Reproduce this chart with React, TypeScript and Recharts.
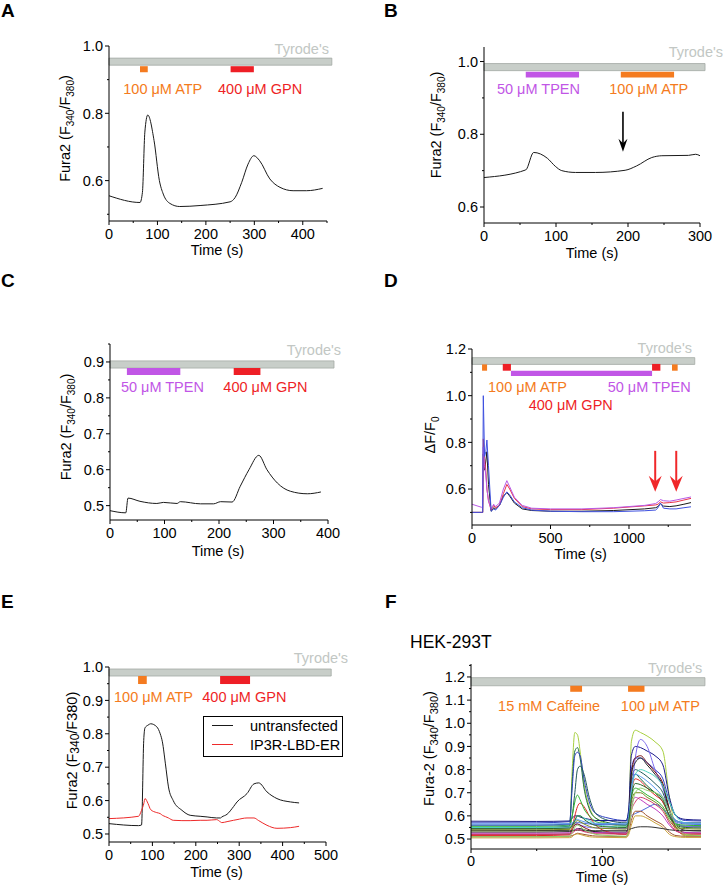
import React from 'react';
import { LineChart, Line, XAxis, YAxis, ReferenceArea, ReferenceDot, Legend } from 'recharts';

const FONT = '"Liberation Sans", Arial, Helvetica, sans-serif';
const FS = 14.5;
const ORANGE = '#f47b20';
const RED = '#ee1f26';
const PURPLE = '#c156e6';
const BAR_GREY = '#c8cec9';
const BAR_EDGE = '#a3a9a5';
const TEXT_GREY = '#c2c7c4';
const TRACE = '#1a1a1a';

// ---- A: ATP then GPN ----
const aTime = [0, 64, 69, 74, 80, 93, 104, 112, 126, 146, 188, 250, 260, 274, 287, 299, 311, 332, 353, 380, 408, 441];
const aRatio = [0.555, 0.535, 0.565, 0.744, 0.795, 0.719, 0.6, 0.56, 0.532, 0.523, 0.526, 0.537, 0.549, 0.595, 0.649, 0.674, 0.659, 0.605, 0.58, 0.57, 0.57, 0.577];
const aXTicks = [0, 50, 100, 150, 200, 250, 300, 350, 400, 450];
const aXMajor = [0, 100, 200, 300, 400];
const aYTicks = [0.5, 0.6, 0.7, 0.8, 0.9, 1.0];
const aYMajor = [0.6, 0.8, 1.0];

// ---- B: TPEN then ATP ----
const bTime = [0, 58, 69, 88, 99, 108, 127, 155, 196, 212, 233, 247, 284, 294, 300];
const bRatio = [0.681, 0.702, 0.75, 0.734, 0.712, 0.7, 0.695, 0.695, 0.701, 0.713, 0.736, 0.741, 0.742, 0.745, 0.741];
const bXTicks = [0, 50, 100, 150, 200, 250, 300];
const bXMajor = [0, 100, 200, 300];
const bYTicks = [0.6, 0.7, 0.8, 0.9, 1.0];
const bYMajor = [0.6, 0.8, 1.0];

// ---- C: TPEN then GPN ----
const cTime = [0, 29, 33, 55, 86, 98, 123, 129, 166, 190, 203, 224, 239, 255, 273, 288, 307, 331, 362, 387];
const cRatio = [0.486, 0.48, 0.521, 0.512, 0.506, 0.509, 0.506, 0.511, 0.505, 0.505, 0.511, 0.51, 0.554, 0.6, 0.64, 0.6, 0.563, 0.54, 0.533, 0.538];
const cXTicks = [0, 50, 100, 150, 200, 250, 300, 350, 400];
const cXMajor = [0, 100, 200, 300, 400];
const cYTicks = [0.5, 0.55, 0.6, 0.65, 0.7, 0.75, 0.8, 0.85, 0.9, 0.95];
const cYMajor = [0.5, 0.6, 0.7, 0.8, 0.9];

// ---- D: four cells, dF/F0 ----
const dTime = [0, 60, 68, 72, 80, 88, 95, 105, 122, 130, 138, 150, 175, 200, 222, 240, 270, 320, 380, 500, 700, 900, 1100, 1170, 1185, 1200, 1220, 1260, 1300, 1350, 1395];
const dBlue = [0.5, 0.5, 0.5, 1.0, 0.74, 0.76, 0.81, 0.7, 0.505, 0.51, 0.515, 0.51, 0.53, 0.565, 0.588, 0.575, 0.545, 0.52, 0.51, 0.505, 0.503, 0.503, 0.507, 0.51, 0.52, 0.54, 0.518, 0.515, 0.515, 0.52, 0.524];
const dRed = [0.5, 0.5, 0.5, 0.815, 0.73, 0.68, 0.6, 0.55, 0.51, 0.52, 0.53, 0.52, 0.53, 0.58, 0.62, 0.6, 0.56, 0.525, 0.515, 0.512, 0.512, 0.518, 0.528, 0.532, 0.535, 0.545, 0.54, 0.542, 0.545, 0.553, 0.56];
const dBlack = [0.5, 0.5, 0.5, 0.75, 0.681, 0.72, 0.76, 0.62, 0.505, 0.51, 0.52, 0.515, 0.53, 0.57, 0.585, 0.57, 0.54, 0.515, 0.508, 0.505, 0.505, 0.508, 0.515, 0.52, 0.525, 0.538, 0.527, 0.525, 0.528, 0.535, 0.542];
const dPurple = [0.535, 0.522, 0.52, 0.78, 0.7, 0.66, 0.6, 0.55, 0.515, 0.525, 0.535, 0.525, 0.54, 0.6, 0.636, 0.61, 0.565, 0.53, 0.518, 0.515, 0.515, 0.52, 0.53, 0.538, 0.545, 0.555, 0.55, 0.548, 0.553, 0.56, 0.566];
const dXTicks = [0, 250, 500, 750, 1000, 1250];
const dXMajor = [0, 500, 1000];
const dYTicks = [0.5, 0.6, 0.7, 0.8, 0.9, 1.0, 1.1, 1.2];
const dYMajor = [0.6, 0.8, 1.0, 1.2];

// ---- E: untransfected vs IP3R-LBD-ER ----
const eSeries = ['untransfected', 'IP3R-LBD-ER'];
const eColors = [TRACE, '#ee2a2a'];
const eTime = [0, 68, 75, 80, 83, 90, 96, 110, 118, 123, 130, 137, 148, 168, 187, 210, 226, 248, 257, 260, 272, 287, 295, 318, 334, 345, 364, 387, 418, 438];
const eUntransfected = [0.531, 0.525, 0.527, 0.78, 0.818, 0.826, 0.83, 0.821, 0.8, 0.776, 0.71, 0.641, 0.6, 0.571, 0.556, 0.553, 0.551, 0.548, 0.548, 0.551, 0.559, 0.582, 0.596, 0.621, 0.65, 0.653, 0.626, 0.606, 0.596, 0.593];
const eIp3r = [0.546, 0.553, 0.571, 0.59, 0.606, 0.591, 0.573, 0.564, 0.561, 0.556, 0.552, 0.548, 0.541, 0.54, 0.54, 0.541, 0.541, 0.543, 0.536, 0.534, 0.537, 0.541, 0.543, 0.548, 0.548, 0.54, 0.526, 0.517, 0.519, 0.523];
const eXTicks = [0, 50, 100, 150, 200, 250, 300, 350, 400, 450, 500];
const eXMajor = [0, 100, 200, 300, 400, 500];
const eYTicks = [0.5, 0.55, 0.6, 0.65, 0.7, 0.75, 0.8, 0.85, 0.9, 0.95, 1.0];
const eYMajor = [0.5, 0.6, 0.7, 0.8, 0.9, 1.0];

// ---- F: HEK-293T, caffeine then ATP ----
const fTime = [0, 50, 75, 77, 79, 81, 83, 86, 90, 95, 105, 118, 120, 122, 125, 129, 134, 140, 146, 151, 156, 163, 175];
const fTraces = [
  [0.535, 0.535, 0.54, 0.8, 0.96, 0.95, 0.88, 0.74, 0.64, 0.59, 0.565, 0.555, 0.6, 0.92, 0.97, 0.96, 0.945, 0.92, 0.88, 0.68, 0.55, 0.515, 0.515],
  [0.55, 0.55, 0.555, 0.75, 0.88, 0.895, 0.85, 0.72, 0.63, 0.59, 0.57, 0.56, 0.6, 0.74, 0.78, 0.76, 0.73, 0.7, 0.66, 0.6, 0.565, 0.555, 0.555],
  [0.57, 0.57, 0.575, 0.72, 0.86, 0.875, 0.86, 0.76, 0.66, 0.61, 0.59, 0.58, 0.62, 0.8, 0.85, 0.85, 0.83, 0.8, 0.76, 0.66, 0.6, 0.58, 0.578],
  [0.56, 0.56, 0.565, 0.6, 0.7, 0.8, 0.815, 0.78, 0.68, 0.61, 0.58, 0.57, 0.6, 0.76, 0.8, 0.79, 0.77, 0.74, 0.7, 0.62, 0.58, 0.57, 0.57],
  [0.577, 0.576, 0.578, 0.59, 0.6, 0.6, 0.595, 0.59, 0.585, 0.58, 0.58, 0.578, 0.63, 0.86, 0.9, 0.895, 0.88, 0.86, 0.82, 0.68, 0.6, 0.585, 0.582],
  [0.545, 0.545, 0.55, 0.555, 0.565, 0.565, 0.56, 0.555, 0.55, 0.548, 0.546, 0.545, 0.57, 0.68, 0.85, 0.93, 0.9, 0.8, 0.72, 0.62, 0.57, 0.555, 0.552],
  [0.52, 0.52, 0.522, 0.54, 0.56, 0.565, 0.56, 0.55, 0.54, 0.53, 0.525, 0.522, 0.56, 0.78, 0.85, 0.86, 0.83, 0.79, 0.74, 0.63, 0.55, 0.528, 0.525],
  [0.53, 0.53, 0.532, 0.535, 0.54, 0.545, 0.545, 0.54, 0.535, 0.532, 0.53, 0.53, 0.57, 0.78, 0.83, 0.85, 0.82, 0.78, 0.73, 0.62, 0.56, 0.538, 0.535],
  [0.515, 0.515, 0.518, 0.55, 0.6, 0.64, 0.655, 0.64, 0.6, 0.56, 0.53, 0.52, 0.55, 0.7, 0.76, 0.75, 0.72, 0.69, 0.66, 0.6, 0.54, 0.52, 0.518],
  [0.555, 0.555, 0.56, 0.6, 0.66, 0.69, 0.67, 0.63, 0.6, 0.575, 0.565, 0.56, 0.59, 0.68, 0.72, 0.71, 0.69, 0.67, 0.64, 0.59, 0.565, 0.56, 0.558],
  [0.55, 0.55, 0.552, 0.56, 0.58, 0.6, 0.6, 0.59, 0.58, 0.565, 0.555, 0.552, 0.57, 0.7, 0.78, 0.8, 0.79, 0.77, 0.73, 0.66, 0.6, 0.57, 0.565],
  [0.525, 0.525, 0.527, 0.53, 0.54, 0.545, 0.54, 0.535, 0.53, 0.528, 0.527, 0.526, 0.55, 0.64, 0.68, 0.67, 0.65, 0.63, 0.6, 0.56, 0.535, 0.528, 0.527],
  [0.56, 0.56, 0.562, 0.565, 0.57, 0.572, 0.57, 0.568, 0.565, 0.563, 0.562, 0.561, 0.58, 0.6, 0.61, 0.62, 0.635, 0.65, 0.63, 0.6, 0.575, 0.565, 0.563],
  [0.51, 0.51, 0.512, 0.515, 0.52, 0.525, 0.523, 0.52, 0.516, 0.513, 0.512, 0.511, 0.53, 0.58, 0.62, 0.62, 0.6, 0.58, 0.56, 0.53, 0.515, 0.512, 0.512],
  [0.505, 0.505, 0.506, 0.51, 0.52, 0.522, 0.52, 0.515, 0.51, 0.508, 0.507, 0.506, 0.52, 0.56, 0.6, 0.6, 0.59, 0.57, 0.55, 0.52, 0.51, 0.507, 0.507],
  [0.538, 0.537, 0.536, 0.536, 0.537, 0.538, 0.538, 0.537, 0.536, 0.536, 0.536, 0.536, 0.54, 0.545, 0.55, 0.553, 0.553, 0.55, 0.545, 0.54, 0.537, 0.536, 0.536],
  [0.54, 0.54, 0.542, 0.55, 0.57, 0.58, 0.575, 0.565, 0.555, 0.548, 0.545, 0.543, 0.57, 0.66, 0.7, 0.7, 0.68, 0.66, 0.63, 0.58, 0.55, 0.545, 0.543],
  [0.565, 0.565, 0.567, 0.57, 0.58, 0.585, 0.58, 0.575, 0.57, 0.568, 0.567, 0.566, 0.6, 0.72, 0.78, 0.77, 0.75, 0.72, 0.68, 0.62, 0.58, 0.57, 0.568],
  [0.52, 0.52, 0.521, 0.525, 0.535, 0.54, 0.538, 0.532, 0.527, 0.523, 0.522, 0.521, 0.54, 0.62, 0.66, 0.68, 0.67, 0.65, 0.62, 0.57, 0.535, 0.523, 0.522],
  [0.545, 0.545, 0.547, 0.56, 0.58, 0.6, 0.6, 0.585, 0.57, 0.558, 0.552, 0.55, 0.575, 0.68, 0.74, 0.735, 0.72, 0.7, 0.67, 0.6, 0.56, 0.55, 0.548],
  [0.51, 0.51, 0.512, 0.53, 0.55, 0.56, 0.555, 0.54, 0.53, 0.52, 0.515, 0.512, 0.54, 0.62, 0.7, 0.72, 0.71, 0.7, 0.68, 0.62, 0.56, 0.52, 0.515],
];
const fColors = ['#a8d040', '#1f6f3f', '#2d3fc0', '#215a5a', '#1a1a8a', '#7b68ee', '#7a1010', '#222222', '#e02424', '#2fb52f', '#4fd6c0', '#c03cc0', '#4a6ad8', '#a0522d', '#c9a23a', '#333333', '#7a8a20', '#5a9af0', '#d0406a', '#2a6a2a', '#8fd06a'];
const fXTicks = [0, 50, 100, 150];
const fXMajor = [0, 100];
const fYTicks = [0.5, 0.55, 0.6, 0.65, 0.7, 0.75, 0.8, 0.85, 0.9, 0.95, 1.0, 1.05, 1.1, 1.15, 1.2, 1.25];
const fYMajor = [0.5, 0.6, 0.7, 0.8, 0.9, 1.0, 1.1, 1.2];

const rows = (time: number[], cols: Record<string, number[]>) =>
  time.map((t, i) => {
    const r: Record<string, number> = { t };
    Object.keys(cols).forEach((k) => (r[k] = cols[k][i]));
    return r;
  });

const near = (list: number[], v: number) => list.some((m) => Math.abs(m - v) < 1e-6);

const YTick = (props: any) => {
  const { y, payload, axisX, majors } = props;
  const v = Number(payload.value);
  const major = near(majors, v);
  return (
    <g>
      <line x1={axisX - (major ? 4 : 2)} x2={axisX} y1={y} y2={y} stroke="#000" strokeWidth={1} />
      {major && (
        <text x={axisX - 6} y={y} dy="0.36em" textAnchor="end" fontSize={FS} fontFamily={FONT} fill="#000">
          {v.toFixed(1)}
        </text>
      )}
    </g>
  );
};

const XTick = (props: any) => {
  const { x, payload, axisY, majors, gap } = props;
  const v = Number(payload.value);
  const major = near(majors, v);
  return (
    <g>
      <line x1={x} x2={x} y1={axisY} y2={axisY + (major ? 4 : 2)} stroke="#000" strokeWidth={1} />
      {major && (
        <text x={x} y={axisY + gap} textAnchor="middle" fontSize={FS} fontFamily={FONT} fill="#000">
          {v}
        </text>
      )}
    </g>
  );
};

type Frame = { W: number; H: number; L: number; T: number; R: number; B: number; G?: number };

// both axes for one panel, with titles placed relative to the axis boxes
const axes = (
  f: Frame,
  xDomain: number[], xTicks: number[], xMajor: number[],
  yDomain: number[], yTicks: number[], yMajor: number[],
  xT: { dx: number; dy: number },
  yT: { node: React.ReactNode; dx: number; dy: number },
) => [
  <XAxis
    key="x"
    type="number"
    dataKey="t"
    domain={xDomain}
    ticks={xTicks}
    interval={0}
    allowDataOverflow
    height={f.B}
    axisLine={{ stroke: '#000', strokeWidth: 1 }}
    tickLine={false}
    tick={<XTick axisY={f.H - f.B} majors={xMajor} gap={f.G ?? 18} />}
    label={{
      content: (p: any) => (
        <text x={p.viewBox.x + p.viewBox.width / 2 + xT.dx} y={p.viewBox.y + xT.dy} textAnchor="middle" fontSize={FS} fontFamily={FONT} fill="#000">
          Time (s)
        </text>
      ),
    }}
  />,
  <YAxis
    key="y"
    type="number"
    domain={yDomain}
    ticks={yTicks}
    interval={0}
    allowDataOverflow
    width={f.L}
    axisLine={{ stroke: '#000', strokeWidth: 1 }}
    tickLine={false}
    tick={<YTick axisX={f.L} majors={yMajor} />}
    label={{
      content: (p: any) => {
        const x = p.viewBox.x + p.viewBox.width - yT.dx;
        const y = p.viewBox.y + p.viewBox.height / 2 + yT.dy;
        return (
          <text x={x} y={y} transform={`rotate(-90 ${x} ${y})`} textAnchor="middle" fontSize={FS} fontFamily={FONT} fill="#000">
            {yT.node}
          </text>
        );
      },
    }}
  />,
];

const bar = (key: string, x1: number, x2: number, y1: number, y2: number, fill: string, stroke?: string) => (
  <ReferenceArea key={key} x1={x1} x2={x2} y1={y1} y2={y2} fill={fill} fillOpacity={1} stroke={stroke || 'none'} strokeWidth={0.8} ifOverflow="visible" />
);

const note = (key: string, x: number, y: number, text: string, color: string, anchor = 'start') => (
  <ReferenceDot
    key={key}
    x={x}
    y={y}
    ifOverflow="visible"
    shape={(p: any) => (
      <text x={p.cx} y={p.cy} fill={color} fontSize={FS} fontFamily={FONT} textAnchor={anchor}>
        {text}
      </text>
    )}
  />
);

const arrow = (key: string, x: number, y: number, color: string, len: number, w: number, hl: number, sw: number) => (
  <ReferenceDot
    key={key}
    x={x}
    y={y}
    ifOverflow="visible"
    shape={(p: any) => (
      <g>
        <line x1={p.cx} x2={p.cx} y1={p.cy - len} y2={p.cy - hl * 0.6} stroke={color} strokeWidth={sw} />
        <polygon
          points={`${p.cx - w / 2},${p.cy - hl} ${p.cx},${p.cy - hl * 0.65} ${p.cx + w / 2},${p.cy - hl} ${p.cx},${p.cy}`}
          fill={color}
        />
      </g>
    )}
  />
);

const fura = (
  <>
    Fura2 (F<tspan dy={4} fontSize={10}>340</tspan>
    <tspan dy={-4}>/F</tspan>
    <tspan dy={4} fontSize={10}>380</tspan>
    <tspan dy={-4}>)</tspan>
  </>
);

const place = (left: number, top: number): React.CSSProperties => ({ position: 'absolute', left, top });

const PanelA = () => {
  const f = { W: 357, H: 266, L: 109, T: 46, R: 30, B: 45 };
  return (
    <LineChart width={f.W} height={f.H} data={rows(aTime, { v: aRatio })} margin={{ top: f.T, right: f.R, left: 0, bottom: 0 }}>
      {axes(f, [0, 450], aXTicks, aXMajor, [0.48, 1.0], aYTicks, aYMajor, { dx: -1, dy: 34 }, { node: fura, dx: 39, dy: -5 })}
      {bar('ty', 0, 460, 0.943, 0.964, BAR_GREY, BAR_EDGE)}
      {bar('atp', 64, 80, 0.922, 0.94, ORANGE)}
      {bar('gpn', 251, 299, 0.922, 0.94, RED)}
      {note('tyt', 454, 0.975, "Tyrode's", TEXT_GREY, 'end')}
      {note('atpt', 29.5, 0.857, '100 μM ATP', ORANGE)}
      {note('gpnt', 225, 0.857, '400 μM GPN', RED)}
      <Line type="monotone" dataKey="v" stroke={TRACE} strokeWidth={1} dot={false} isAnimationActive={false} />
    </LineChart>
  );
};

const PanelB = () => {
  const f = { W: 362, H: 268, L: 122, T: 47, R: 24, B: 45 };
  return (
    <LineChart width={f.W} height={f.H} data={rows(bTime, { v: bRatio })} margin={{ top: f.T, right: f.R, left: 0, bottom: 0 }}>
      {axes(f, [0, 300], bXTicks, bXMajor, [0.556, 1.04], bYTicks, bYMajor, { dx: 0, dy: 35 }, { node: fura, dx: 43, dy: -10 })}
      {bar('ty', 0, 307, 0.975, 0.9945, BAR_GREY, BAR_EDGE)}
      {bar('tpen', 58, 132, 0.956, 0.972, PURPLE)}
      {bar('atp', 190, 264, 0.956, 0.972, ORANGE)}
      {note('tyt', 332, 1.013, "Tyrode's", TEXT_GREY, 'end')}
      {note('tpent', 18, 0.912, '50 μM TPEN', PURPLE)}
      {note('atpt', 174, 0.912, '100 μM ATP', ORANGE)}
      {arrow('arr', 193, 0.752, '#000', 40, 9, 13, 1.6)}
      <Line type="monotone" dataKey="v" stroke={TRACE} strokeWidth={1} dot={false} isAnimationActive={false} />
    </LineChart>
  );
};

const PanelC = () => {
  const f = { W: 358, H: 275, L: 110, T: 54, R: 30, B: 45 };
  return (
    <LineChart width={f.W} height={f.H} data={rows(cTime, { v: cRatio })} margin={{ top: f.T, right: f.R, left: 0, bottom: 0 }}>
      {axes(f, [0, 400], cXTicks, cXMajor, [0.46, 0.95], cYTicks, cYMajor, { dx: -1, dy: 36 }, { node: fura, dx: 39, dy: -5 })}
      {bar('ty', 0, 411, 0.883, 0.903, BAR_GREY, BAR_EDGE)}
      {bar('tpen', 31, 129, 0.864, 0.883, PURPLE)}
      {bar('gpn', 227, 276, 0.864, 0.883, RED)}
      {note('tyt', 424, 0.919, "Tyrode's", TEXT_GREY, 'end')}
      {note('tpent', 20, 0.8175, '50 μM TPEN', PURPLE)}
      {note('gpnt', 208, 0.8175, '400 μM GPN', RED)}
      <Line type="monotone" dataKey="v" stroke={TRACE} strokeWidth={1} dot={false} isAnimationActive={false} />
    </LineChart>
  );
};

const PanelD = () => {
  const f = { W: 362, H: 280, L: 110, T: 59, R: 33, B: 45 };
  const data = rows(dTime, { black: dBlack, red: dRed, blue: dBlue, purple: dPurple });
  const dTitle = (
    <>
      ΔF/F<tspan dy={4} fontSize={10}>0</tspan>
    </>
  );
  return (
    <LineChart width={f.W} height={f.H} data={data} margin={{ top: f.T, right: f.R, left: 0, bottom: 0 }}>
      {axes(f, [0, 1395], dXTicks, dXMajor, [0.446, 1.2], dYTicks, dYMajor, { dx: -1, dy: 34 }, { node: dTitle, dx: 37, dy: -2 })}
      {bar('ty', 0, 1419, 1.134, 1.163, BAR_GREY, BAR_EDGE)}
      {bar('atp1', 64, 96, 1.107, 1.134, ORANGE)}
      {bar('gpn1', 196, 248, 1.107, 1.136, RED)}
      {bar('tpen', 248, 1147, 1.084, 1.107, PURPLE)}
      {bar('gpn2', 1147, 1200, 1.107, 1.136, RED)}
      {bar('atp2', 1274, 1310, 1.107, 1.134, ORANGE)}
      {note('tyt', 1401, 1.183, "Tyrode's", TEXT_GREY, 'end')}
      {note('atpt', 102, 1.017, '100 μM ATP', ORANGE)}
      {note('tpent', 864, 1.017, '50 μM TPEN', PURPLE)}
      {note('gpnt', 361, 0.939, '400 μM GPN', RED)}
      {arrow('arr1', 1167, 0.588, '#f0282a', 41, 13, 16, 2)}
      {arrow('arr2', 1301, 0.588, '#f0282a', 41, 13, 16, 2)}
      <Line type="linear" dataKey="black" stroke={TRACE} strokeWidth={1} dot={false} isAnimationActive={false} />
      <Line type="linear" dataKey="red" stroke="#e8324a" strokeWidth={1} dot={false} isAnimationActive={false} />
      <Line type="linear" dataKey="purple" stroke="#b85ae6" strokeWidth={1} dot={false} isAnimationActive={false} />
      <Line type="linear" dataKey="blue" stroke="#3f51e0" strokeWidth={1} dot={false} isAnimationActive={false} />
    </LineChart>
  );
};

// legend box drawn in series order, same as the figure
const ELegend = () => (
  <div style={{ width: 140, height: 41, border: '1px solid #000', boxSizing: 'border-box', background: '#fff', position: 'relative', fontFamily: FONT, fontSize: FS, color: '#000' }}>
    {eSeries.map((name, i) => (
      <div key={name} style={{ position: 'absolute', left: 8, top: i * 19, height: 17, display: 'flex', alignItems: 'center', whiteSpace: 'nowrap' }}>
        <span style={{ display: 'inline-block', width: 21, height: 0, borderTop: `1px solid ${eColors[i]}`, marginRight: 17 }} />
        <span>{name}</span>
      </div>
    ))}
  </div>
);

const PanelE = () => {
  const f = { W: 356, H: 295, L: 109, T: 77, R: 30, B: 43 };
  const data = rows(eTime, { u: eUntransfected, r: eIp3r });
  const eTitle = (
    <>
      Fura2 (F<tspan dy={2} fontSize={12}>340</tspan>
      <tspan dy={-2}>/F380)</tspan>
    </>
  );
  return (
    <LineChart width={f.W} height={f.H} data={data} margin={{ top: f.T, right: f.R, left: 0, bottom: 0 }}>
      {axes(f, [0, 500], eXTicks, eXMajor, [0.476, 1.0], eYTicks, eYMajor, { dx: -1, dy: 35 }, { node: eTitle, dx: 32, dy: -4 })}
      {bar('ty', 0, 512, 0.973, 0.994, BAR_GREY, BAR_EDGE)}
      {bar('atp', 67, 87, 0.949, 0.973, ORANGE)}
      {bar('gpn', 256, 325, 0.949, 0.973, RED)}
      {note('tyt', 551, 1.012, "Tyrode's", TEXT_GREY, 'end')}
      {note('atpt', 11.6, 0.895, '100 μM ATP', ORANGE)}
      {note('gpnt', 215, 0.895, '400 μM GPN', RED)}
      <Legend layout="vertical" align="center" verticalAlign="middle" wrapperStyle={{ left: 203, top: 126, width: 140, height: 41 }} content={<ELegend />} />
      <Line type="monotone" dataKey="u" name={eSeries[0]} stroke={eColors[0]} strokeWidth={1} dot={false} isAnimationActive={false} />
      <Line type="monotone" dataKey="r" name={eSeries[1]} stroke={eColors[1]} strokeWidth={1} dot={false} isAnimationActive={false} />
    </LineChart>
  );
};

const PanelF = () => {
  const f = { W: 362, H: 295, L: 109, T: 74, R: 23, B: 36, G: 17 };
  const cols: Record<string, number[]> = {};
  fTraces.forEach((tr, i) => (cols[`s${i}`] = tr));
  const fTitle = (
    <>
      Fura-2 (F<tspan dy={4} fontSize={11}>340</tspan>
      <tspan dy={-4}>/F</tspan>
      <tspan dy={4} fontSize={11}>380</tspan>
      <tspan dy={-4}>)</tspan>
    </>
  );
  return (
    <LineChart width={f.W} height={f.H} data={rows(fTime, cols)} margin={{ top: f.T, right: f.R, left: 0, bottom: 0 }}>
      {axes(f, [0, 175], fXTicks, fXMajor, [0.457, 1.256], fYTicks, fYMajor, { dx: 16, dy: 33 }, { node: fTitle, dx: 37, dy: -8 })}
      {bar('ty', 0, 178, 1.162, 1.197, BAR_GREY, BAR_EDGE)}
      {bar('caf', 75.5, 84.5, 1.136, 1.162, ORANGE)}
      {bar('atp', 119.5, 132, 1.136, 1.162, ORANGE)}
      {note('tyt', 176, 1.219, "Tyrode's", TEXT_GREY, 'end')}
      {note('caft', 20.6, 1.054, '15 mM Caffeine', ORANGE)}
      {note('atpt', 114, 1.054, '100 μM ATP', ORANGE)}
      {fTraces.map((_, i) => (
        <Line key={i} type="monotone" dataKey={`s${i}`} stroke={fColors[i]} strokeWidth={1} dot={false} isAnimationActive={false} />
      ))}
    </LineChart>
  );
};

const letter = (ch: string, x: number, y: number) => (
  <text key={ch} x={x} y={y} fontSize={19} fontWeight="bold" fontFamily={FONT} fill="#000">
    {ch}
  </text>
);

export default function App() {
  return (
    <div style={{ position: 'relative', width: 724, height: 885, background: '#fff', overflow: 'hidden' }}>
      <style>{'body{margin:0}'}</style>
      <svg width={724} height={885} style={{ position: 'absolute', left: 0, top: 0 }}>
        {letter('A', 1, 17)}
        {letter('B', 384, 17)}
        {letter('C', 1, 287)}
        {letter('D', 384, 287)}
        {letter('E', 1, 608)}
        {letter('F', 385, 608)}
        <text x={410} y={648} fontSize={17.5} fontFamily={FONT} fill="#000">
          HEK-293T
        </text>
      </svg>
      <div style={place(0, 0)}><PanelA /></div>
      <div style={place(362, 0)}><PanelB /></div>
      <div style={place(0, 290)}><PanelC /></div>
      <div style={place(362, 290)}><PanelD /></div>
      <div style={place(0, 590)}><PanelE /></div>
      <div style={place(362, 590)}><PanelF /></div>
    </div>
  );
}
